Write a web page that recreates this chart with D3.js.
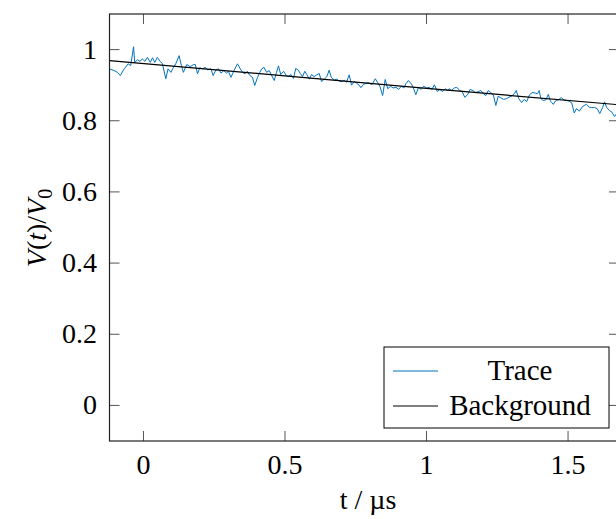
<!DOCTYPE html>
<html>
<head>
<meta charset="utf-8">
<script src="https://cdn.jsdelivr.net/npm/d3@7"></script>
<style>
  html, body { margin: 0; padding: 0; background: #fff; }
</style>
</head>
<body>
<svg id="chart" width="616" height="519"></svg>
<script>
// Trace: time (µs) and normalised voltage
const traceT = [
  -0.121, -0.104, -0.092, -0.082, -0.068, -0.054, -0.045, -0.035, -0.031, -0.021,
  -0.012, -0.004, 0.005, 0.014, 0.024, 0.032, 0.040, 0.049, 0.059, 0.067,
  0.079, 0.087, 0.097, 0.106, 0.114, 0.126, 0.134, 0.141, 0.153, 0.165,
  0.177, 0.183, 0.191, 0.199, 0.208, 0.218, 0.227, 0.238, 0.246, 0.256,
  0.265, 0.274, 0.284, 0.293, 0.300, 0.309, 0.320, 0.332, 0.342, 0.350,
  0.359, 0.367, 0.376, 0.385, 0.393, 0.403, 0.411, 0.418, 0.426, 0.435,
  0.444, 0.453, 0.462, 0.470, 0.477, 0.485, 0.495, 0.503, 0.511, 0.521,
  0.530, 0.538, 0.547, 0.554, 0.562, 0.570, 0.577, 0.586, 0.594, 0.603,
  0.612, 0.621, 0.629, 0.639, 0.648, 0.656, 0.664, 0.674, 0.683, 0.693,
  0.702, 0.709, 0.717, 0.727, 0.735, 0.745, 0.754, 0.762, 0.768, 0.777,
  0.783, 0.795, 0.807, 0.819, 0.827, 0.835, 0.845, 0.854, 0.863, 0.873,
  0.882, 0.892, 0.901, 0.911, 0.920, 0.927, 0.936, 0.946, 0.953, 0.962,
  0.972, 0.981, 0.990, 1.000, 1.010, 1.019, 1.028, 1.038, 1.047, 1.057,
  1.066, 1.075, 1.080, 1.088, 1.098, 1.107, 1.117, 1.126, 1.135, 1.145,
  1.154, 1.164, 1.173, 1.183, 1.192, 1.201, 1.210, 1.218, 1.227, 1.236,
  1.245, 1.253, 1.263, 1.272, 1.282, 1.291, 1.300, 1.310, 1.317, 1.326,
  1.336, 1.345, 1.354, 1.364, 1.373, 1.384, 1.392, 1.398, 1.404, 1.412,
  1.422, 1.430, 1.438, 1.448, 1.457, 1.466, 1.476, 1.485, 1.495, 1.504,
  1.513, 1.522, 1.530, 1.540, 1.549, 1.557, 1.565, 1.575, 1.584, 1.594,
  1.603, 1.612, 1.622, 1.629, 1.636, 1.646, 1.655, 1.664, 1.672, 1.680
];
const traceV = [
  0.946, 0.941, 0.936, 0.927, 0.946, 0.960, 0.955, 1.008, 0.964, 0.971,
  0.967, 0.974, 0.967, 0.978, 0.964, 0.977, 0.964, 0.978, 0.967, 0.960,
  0.918, 0.946, 0.936, 0.950, 0.960, 0.983, 0.955, 0.936, 0.958, 0.952,
  0.958, 0.958, 0.932, 0.949, 0.946, 0.950, 0.943, 0.946, 0.927, 0.943,
  0.946, 0.934, 0.941, 0.934, 0.939, 0.922, 0.941, 0.960, 0.946, 0.936,
  0.932, 0.939, 0.927, 0.922, 0.899, 0.922, 0.936, 0.946, 0.950, 0.936,
  0.941, 0.927, 0.913, 0.936, 0.954, 0.930, 0.939, 0.929, 0.924, 0.930,
  0.919, 0.947, 0.942, 0.933, 0.924, 0.939, 0.930, 0.917, 0.930, 0.924,
  0.929, 0.933, 0.910, 0.917, 0.924, 0.942, 0.921, 0.914, 0.917, 0.911,
  0.910, 0.914, 0.908, 0.929, 0.900, 0.910, 0.905, 0.900, 0.893, 0.902,
  0.904, 0.907, 0.901, 0.918, 0.908, 0.897, 0.871, 0.916, 0.890, 0.897,
  0.892, 0.894, 0.888, 0.897, 0.892, 0.904, 0.913, 0.904, 0.894, 0.873,
  0.894, 0.888, 0.897, 0.892, 0.894, 0.888, 0.901, 0.882, 0.888, 0.882,
  0.890, 0.885, 0.890, 0.885, 0.892, 0.894, 0.885, 0.882, 0.866, 0.873,
  0.888, 0.885, 0.879, 0.882, 0.885, 0.876, 0.871, 0.885, 0.879, 0.873,
  0.843, 0.869, 0.864, 0.860, 0.862, 0.866, 0.869, 0.876, 0.885, 0.862,
  0.851, 0.860, 0.854, 0.873, 0.879, 0.878, 0.876, 0.885, 0.862, 0.857,
  0.859, 0.874, 0.855, 0.846, 0.857, 0.859, 0.865, 0.859, 0.857, 0.855,
  0.850, 0.822, 0.834, 0.827, 0.838, 0.843, 0.846, 0.838, 0.837, 0.837,
  0.834, 0.820, 0.837, 0.853, 0.838, 0.829, 0.824, 0.812, 0.820, 0.815
];
// Background fit line
const bgT = [-0.12, 0.5, 1.0, 1.68];
const bgV = [0.969, 0.926, 0.891, 0.845];

const xTicks = [0, 0.5, 1, 1.5];
const yTicks = [0, 0.2, 0.4, 0.6, 0.8, 1];
const legendLabels = ['Trace', 'Background'];
const seriesColors = ['#0072bd', '#000000'];

const serif = "'Liberation Serif', 'Times New Roman', Times, 'DejaVu Serif', serif";

const svg = d3.select('#chart').attr('font-family', serif);
const mLeft = 109.5, mRight = 619, mTop = 14, mBottom = 441;

const x = d3.scaleLinear().domain([-0.12, 1.68]).range([mLeft, mRight]);
const y = d3.scaleLinear().domain([-0.1, 1.1]).range([mBottom, mTop]);

svg.append('defs').append('clipPath').attr('id', 'plotClip')
  .append('rect').attr('x', mLeft).attr('y', mTop)
  .attr('width', mRight - mLeft).attr('height', mBottom - mTop);

const trace = traceT.map((t, i) => [t, traceV[i]]);
const bg = bgT.map((t, i) => [t, bgV[i]]);
const line = d3.line().x(d => x(d[0])).y(d => y(d[1]));

const plot = svg.append('g').attr('clip-path', 'url(#plotClip)');
plot.append('path').datum(trace)
  .attr('d', line).attr('fill', 'none')
  .attr('stroke', seriesColors[0]).attr('stroke-width', 1)
  .attr('stroke-linejoin', 'round');
plot.append('path').datum(bg)
  .attr('d', line).attr('fill', 'none')
  .attr('stroke', seriesColors[1]).attr('stroke-width', 1.2);

// Ticks on all four sides, pointing inward
const tickLen = 10;
const tickCol = '#555';
const ticks = svg.append('g').attr('stroke', tickCol).attr('stroke-width', 1);
xTicks.forEach(v => {
  ticks.append('line').attr('x1', x(v)).attr('x2', x(v)).attr('y1', mBottom).attr('y2', mBottom - tickLen);
  ticks.append('line').attr('x1', x(v)).attr('x2', x(v)).attr('y1', mTop).attr('y2', mTop + tickLen);
});
yTicks.forEach(v => {
  ticks.append('line').attr('x1', mLeft).attr('x2', mLeft + tickLen).attr('y1', y(v)).attr('y2', y(v));
  ticks.append('line').attr('x1', mRight).attr('x2', mRight - tickLen).attr('y1', y(v)).attr('y2', y(v));
});

// Frame
svg.append('rect').attr('x', mLeft).attr('y', mTop)
  .attr('width', mRight - mLeft).attr('height', mBottom - mTop)
  .attr('fill', 'none').attr('stroke', '#222').attr('stroke-width', 1.2);

// Tick labels
svg.append('g').selectAll('text').data(xTicks).join('text')
  .attr('x', d => x(d)).attr('y', 474)
  .attr('text-anchor', 'middle').attr('font-size', 28)
  .attr('font-family', serif)
  .text(d => d3.format('')(d));
svg.append('g').selectAll('text').data(yTicks).join('text')
  .attr('x', 97).attr('y', d => y(d) + 9)
  .attr('text-anchor', 'end').attr('font-size', 28)
  .attr('font-family', serif)
  .text(d => d3.format('')(d));

// Axis labels
svg.append('text').attr('x', 368).attr('y', 509)
  .attr('text-anchor', 'middle').attr('font-size', 28)
  .attr('font-family', serif)
  .text('t / µs');

const yl = svg.append('text')
  .attr('transform', 'translate(46,228) rotate(-90)')
  .attr('text-anchor', 'middle').attr('font-size', 28)
  .attr('font-family', serif);
yl.append('tspan').attr('font-style', 'italic').text('V');
yl.append('tspan').text('(');
yl.append('tspan').attr('font-style', 'italic').text('t');
yl.append('tspan').text(')/');
yl.append('tspan').attr('font-style', 'italic').text('V');
yl.append('tspan').attr('font-size', 20).attr('dy', 6).text('0');

// Legend
const lg = svg.append('g');
lg.append('rect').attr('x', 384).attr('y', 347).attr('width', 225).attr('height', 81)
  .attr('fill', '#fff').attr('stroke', '#000').attr('stroke-width', 1);
legendLabels.forEach((lab, i) => {
  const ly = 371 + i * 35;
  lg.append('line').attr('x1', 393).attr('x2', 438).attr('y1', ly).attr('y2', ly)
    .attr('stroke', seriesColors[i]).attr('stroke-width', 1);
  lg.append('text').attr('x', 520).attr('y', ly + 9)
    .attr('text-anchor', 'middle').attr('font-size', 29)
    .attr('font-family', serif).text(lab);
});
</script>
</body>
</html>
